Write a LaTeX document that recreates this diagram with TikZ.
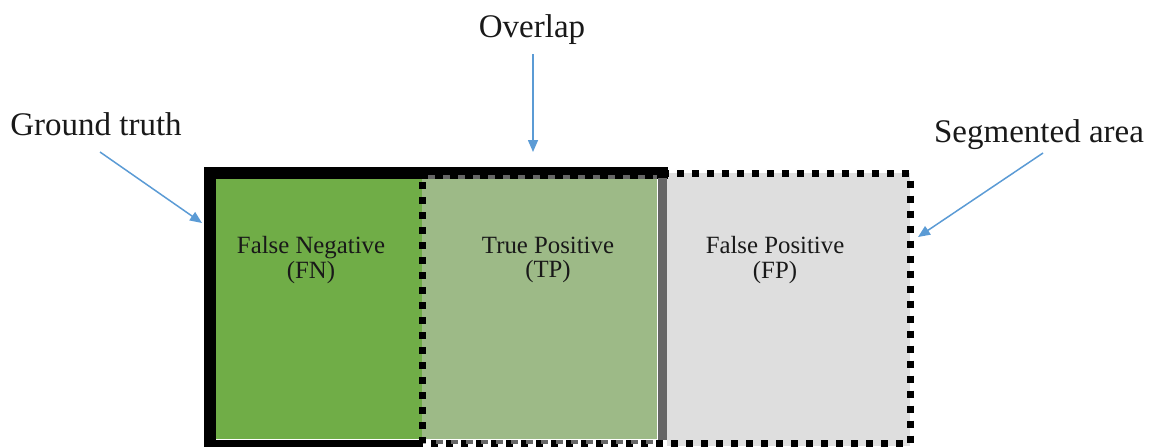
\documentclass[tikz,border=0pt]{standalone}
\usepackage{fontspec}
\setmainfont{Liberation Serif}
\usetikzlibrary{arrows.meta}
\definecolor{fngreen}{HTML}{70AD47}
\definecolor{tpgreen}{HTML}{9DBA87}
\definecolor{fpgray}{HTML}{DEDEDE}
\definecolor{edgegray}{HTML}{666666}
\definecolor{arrowblue}{HTML}{5B9BD5}
\begin{document}
\begin{tikzpicture}[x=0.5pt,y=-0.5pt,
    area/.style={font=\fontsize{12.4}{12.2}\selectfont, align=center, text=black!90},
    tag/.style={font=\fontsize{16.5}{18}\selectfont, text=black!90},
    pointer/.style={arrowblue, line width=0.75pt, -{Triangle[length=6pt,width=5pt]}},
    dots/.style={line width=3.5pt, dash pattern=on 3.5pt off 4pt}]
  \useasboundingbox (0,0) rectangle (1149,446);

  % Regiones
  \fill[fpgray] (667,173) rectangle (910,446);
  \fill[fngreen] (216,178) rectangle (422,439);
  \fill[tpgreen] (422,178) rectangle (657,439);

  % Area segmentada (punteada)
  \draw[dots] (422,173.5) -- (910,173.5) -- (910,443) -- (422,443) -- cycle;

  % Ground truth (borde continuo)
  \draw[line width=6pt] (668,172.5) -- (210,172.5) -- (210,446) -- (420,446);
  \draw[edgegray, line width=2pt, dash pattern=on 3.5pt off 4pt] (428,176.5) -- (657,176.5);
  \draw[edgegray, line width=2pt, dash pattern=on 3.5pt off 4pt, dash phase=3.5pt] (428,441.5) -- (657,441.5);
  \draw[edgegray, line width=4.5pt] (662,178) -- (662,440);

  % Textos de las regiones
  \node[area] (fn) at (311,260) {False Negative\\(FN)};
  \node[area] (tp) at (548,260) {True Positive\\(TP)};
  \node[area] (fp) at (775,260) {False Positive\\(FP)};

  % Etiquetas
  \node[tag] (gtlabel) at (96,124) {Ground truth};
  \node[tag] (ovlabel) at (532,30) {Overlap};
  \node[tag] (seglabel) at (1039,135) {Segmented area};

  % Flechas
  \coordinate (gtfrom) at (100,152);
  \coordinate (gttip) at (202,223);
  \coordinate (ovfrom) at (533,54);
  \coordinate (ovtip) at (533,152);
  \coordinate (segfrom) at (1043,153);
  \coordinate (segtip) at (918,237);
  \draw[pointer] (gtfrom) -- (gttip);
  \draw[pointer] (ovfrom) -- (ovtip);
  \draw[pointer] (segfrom) -- (segtip);
\end{tikzpicture}
\end{document}
